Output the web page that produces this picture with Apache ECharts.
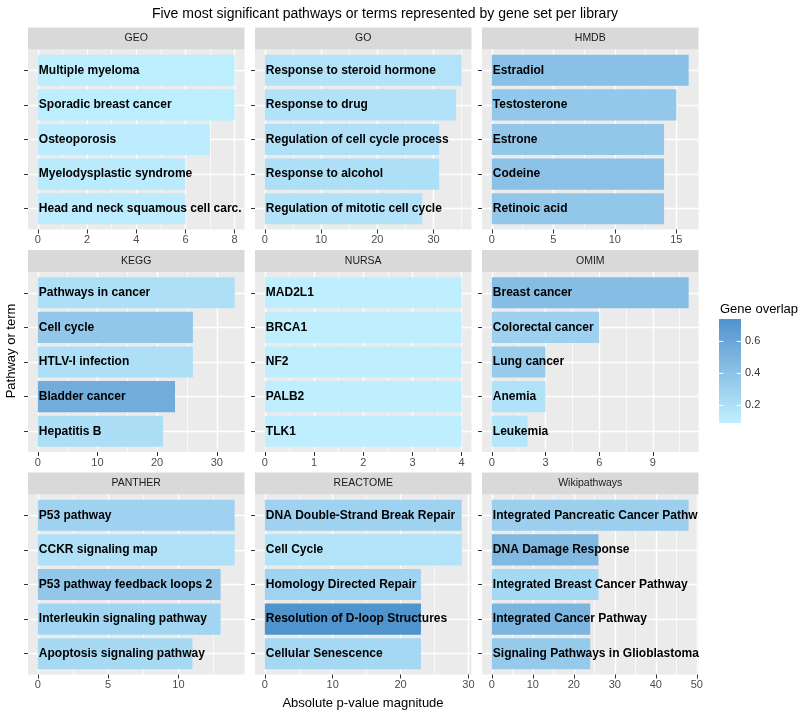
<!DOCTYPE html>
<html><head><meta charset="utf-8">
<script src="https://cdn.jsdelivr.net/npm/echarts@6/dist/echarts.min.js"></script>
<style>html,body{margin:0;padding:0;background:#fff}#chart{width:800px;height:715px}</style>
</head><body><div id="chart"></div>
<script>
// ---------------- data ----------------
const libraries = ['GEO', 'GO', 'HMDB', 'KEGG', 'NURSA', 'OMIM', 'PANTHER', 'REACTOME', 'Wikipathways'];

const geoTerms = ['Multiple myeloma', 'Sporadic breast cancer', 'Osteoporosis', 'Myelodysplastic syndrome', 'Head and neck squamous cell carc.'];
const geoValues = [8, 8, 7, 6, 6];
const geoOverlap = [0.10, 0.10, 0.11, 0.12, 0.11];
const geoTicks = [0, 2, 4, 6, 8];

const goTerms = ['Response to steroid hormone', 'Response to drug', 'Regulation of cell cycle process', 'Response to alcohol', 'Regulation of mitotic cell cycle'];
const goValues = [35, 34, 31, 31, 28];
const goOverlap = [0.17, 0.18, 0.19, 0.20, 0.18];
const goTicks = [0, 10, 20, 30];

const hmdbTerms = ['Estradiol', 'Testosterone', 'Estrone', 'Codeine', 'Retinoic acid'];
const hmdbValues = [16, 15, 14, 14, 14];
const hmdbOverlap = [0.42, 0.36, 0.37, 0.41, 0.37];
const hmdbTicks = [0, 5, 10, 15];

const keggTerms = ['Pathways in cancer', 'Cell cycle', 'HTLV-I infection', 'Bladder cancer', 'Hepatitis B'];
const keggValues = [33, 26, 26, 23, 21];
const keggOverlap = [0.20, 0.37, 0.20, 0.56, 0.21];
const keggTicks = [0, 10, 20, 30];

const nursaTerms = ['MAD2L1', 'BRCA1', 'NF2', 'PALB2', 'TLK1'];
const nursaValues = [4, 4, 4, 4, 4];
const nursaOverlap = [0.09, 0.09, 0.09, 0.09, 0.09];
const nursaTicks = [0, 1, 2, 3, 4];

const omimTerms = ['Breast cancer', 'Colorectal cancer', 'Lung cancer', 'Anemia', 'Leukemia'];
const omimValues = [11, 6, 3, 3, 2];
const omimOverlap = [0.44, 0.30, 0.33, 0.18, 0.15];
const omimTicks = [0, 3, 6, 9];

const pantherTerms = ['P53 pathway', 'CCKR signaling map', 'P53 pathway feedback loops 2', 'Interleukin signaling pathway', 'Apoptosis signaling pathway'];
const pantherValues = [14, 14, 13, 13, 11];
const pantherOverlap = [0.29, 0.19, 0.37, 0.27, 0.24];
const pantherTicks = [0, 5, 10];

const reactomeTerms = ['DNA Double-Strand Break Repair', 'Cell Cycle', 'Homology Directed Repair', 'Resolution of D-loop Structures', 'Cellular Senescence'];
const reactomeValues = [29, 29, 23, 23, 23];
const reactomeOverlap = [0.29, 0.17, 0.28, 0.74, 0.25];
const reactomeTicks = [0, 10, 20, 30];

const wikiTerms = ['Integrated Pancreatic Cancer Pathway', 'DNA Damage Response', 'Integrated Breast Cancer Pathway', 'Integrated Cancer Pathway', 'Signaling Pathways in Glioblastoma'];
const wikiValues = [48, 26, 26, 24, 24];
const wikiOverlap = [0.31, 0.47, 0.25, 0.50, 0.35];
const wikiTicks = [0, 10, 20, 30, 40, 50];

const legendTicks = [0.2, 0.4, 0.6];

const panels = [
  { terms: geoTerms, values: geoValues, overlap: geoOverlap, ticks: geoTicks },
  { terms: goTerms, values: goValues, overlap: goOverlap, ticks: goTicks },
  { terms: hmdbTerms, values: hmdbValues, overlap: hmdbOverlap, ticks: hmdbTicks },
  { terms: keggTerms, values: keggValues, overlap: keggOverlap, ticks: keggTicks },
  { terms: nursaTerms, values: nursaValues, overlap: nursaOverlap, ticks: nursaTicks },
  { terms: omimTerms, values: omimValues, overlap: omimOverlap, ticks: omimTicks },
  { terms: pantherTerms, values: pantherValues, overlap: pantherOverlap, ticks: pantherTicks },
  { terms: reactomeTerms, values: reactomeValues, overlap: reactomeOverlap, ticks: reactomeTicks },
  { terms: wikiTerms, values: wikiValues, overlap: wikiOverlap, ticks: wikiTicks }
];

// ---------------- colour scale (CIELAB interpolation like ggplot) ----------------
const LOW = '#BFEFFF', HIGH = '#4F94CD';
function hex2rgb(h) { return [1, 3, 5].map(i => parseInt(h.substr(i, 2), 16)); }
function lin(c) { c /= 255; return c <= 0.04045 ? c / 12.92 : Math.pow((c + 0.055) / 1.055, 2.4); }
function delin(c) { c = c <= 0.0031308 ? 12.92 * c : 1.055 * Math.pow(c, 1 / 2.4) - 0.055; return Math.max(0, Math.min(255, Math.round(c * 255))); }
const WP = [0.95047, 1, 1.08883];
function rgb2lab(rgb) {
  const [r, g, b] = rgb.map(lin);
  const x = (0.4124 * r + 0.3576 * g + 0.1805 * b) / WP[0];
  const y = (0.2126 * r + 0.7152 * g + 0.0722 * b) / WP[1];
  const z = (0.0193 * r + 0.1192 * g + 0.9505 * b) / WP[2];
  const f = t => t > 0.008856 ? Math.cbrt(t) : 7.787 * t + 16 / 116;
  const fx = f(x), fy = f(y), fz = f(z);
  return [116 * fy - 16, 500 * (fx - fy), 200 * (fy - fz)];
}
function lab2rgb(lab) {
  const fy = (lab[0] + 16) / 116, fx = fy + lab[1] / 500, fz = fy - lab[2] / 200;
  const fi = t => t > 0.206893 ? t * t * t : (t - 16 / 116) / 7.787;
  const x = fi(fx) * WP[0], y = fi(fy) * WP[1], z = fi(fz) * WP[2];
  const r = 3.2406 * x - 1.5372 * y - 0.4986 * z;
  const g = -0.9689 * x + 1.8758 * y + 0.0415 * z;
  const b = 0.0557 * x - 0.2040 * y + 1.0570 * z;
  return 'rgb(' + [r, g, b].map(delin).join(',') + ')';
}
const labLow = rgb2lab(hex2rgb(LOW)), labHigh = rgb2lab(hex2rgb(HIGH));
const allOverlap = panels.flatMap(p => p.overlap);
const oMin = Math.min(...allOverlap), oMax = Math.max(...allOverlap);
function fillFor(v) {
  const t = (v - oMin) / (oMax - oMin);
  return lab2rgb(labLow.map((l, i) => l + (labHigh[i] - l) * t));
}

// ---------------- layout ----------------
const FONT = '"Liberation Sans", Arial, Helvetica, sans-serif';
const colLeft = [28, 255, 482];
const panelW = 216.5;
const rowTop = [27.5, 250, 472.5];
const stripH = 22;
const plotH = 180;

const grids = [], xAxes = [], yAxes = [], series = [], graphics = [];

panels.forEach((p, i) => {
  const col = i % 3, row = Math.floor(i / 3);
  const left = colLeft[col];
  const plotTop = rowTop[row] + stripH;
  const vmax = Math.max(...p.values);
  const dMin = -0.05 * vmax, dMax = 1.05 * vmax;
  const step = p.ticks[1] - p.ticks[0];
  const minor = p.ticks.slice(0, -1).map(t => t + step / 2);
  const lastHalf = p.ticks[p.ticks.length - 1] + step / 2;
  if (lastHalf <= dMax) minor.push(lastHalf);

  // background grid (panel)
  const gA = grids.length;
  grids.push({ left: left, top: plotTop, width: panelW, height: plotH, show: true,
    backgroundColor: '#EBEBEB', borderWidth: 0, containLabel: false, outerBoundsMode: 'none' });
  // bar grid (inset by discrete-axis expansion)
  const inset = plotH * 0.1 / 5.2;
  const gB = grids.length;
  grids.push({ left: left, top: plotTop + inset, width: panelW, height: plotH - 2 * inset,
    show: false, containLabel: false, outerBoundsMode: 'none' });

  // major x axis
  xAxes.push({ gridIndex: gA, type: 'value', min: dMin, max: dMax, position: 'bottom',
    axisLine: { show: false, onZero: false },
    axisTick: { show: true, length: 4, customValues: p.ticks, lineStyle: { color: '#333333', width: 1 } },
    axisLabel: { show: true, customValues: p.ticks, color: '#4D4D4D', fontSize: 11, fontFamily: FONT, margin: 5,
      formatter: v => String(v) },
    splitLine: { show: true, lineStyle: { color: '#FFFFFF', width: 1.4 } } });
  // minor x grid lines
  xAxes.push({ gridIndex: gA, type: 'value', min: dMin, max: dMax, position: 'top',
    axisLine: { show: false, onZero: false },
    axisTick: { show: false, customValues: minor },
    axisLabel: { show: false, customValues: minor },
    splitLine: { show: true, lineStyle: { color: '#FFFFFF', width: 0.7 } } });
  // y axis of background grid: horizontal lines at category centres
  yAxes.push({ gridIndex: gA, type: 'value', min: 0.4, max: 5.6, inverse: true, position: 'left',
    axisLine: { show: false, onZero: false },
    axisTick: { show: true, length: 4, customValues: [1, 2, 3, 4, 5], lineStyle: { color: '#333333', width: 1 } },
    axisLabel: { show: false, customValues: [1, 2, 3, 4, 5] },
    splitLine: { show: true, lineStyle: { color: '#FFFFFF', width: 1.4 } } });

  // bar grid axes
  const xB = xAxes.length;
  xAxes.push({ gridIndex: gB, type: 'value', min: dMin, max: dMax, show: false,
    axisLine: { onZero: false }, splitLine: { show: false } });
  const yB = yAxes.length;
  yAxes.push({ gridIndex: gB, type: 'category', data: p.terms, inverse: true, show: false,
    axisLine: { onZero: false }, splitLine: { show: false } });

  const zeroPx = panelW * (0 - dMin) / (dMax - dMin);
  series.push({
    type: 'bar', xAxisIndex: xB, yAxisIndex: yB, barWidth: '90%',
    data: p.values.map((v, k) => ({ value: v, itemStyle: { color: fillFor(p.overlap[k]) } })),
    itemStyle: { borderWidth: 0 },
    label: { show: true, position: 'insideLeft', distance: 1, formatter: '{b}',
      color: '#000000', fontWeight: 'bold', fontSize: 12, fontFamily: FONT,
      textBorderWidth: 0, textShadowBlur: 0,
      overflow: 'truncate', ellipsis: '', width: panelW - zeroPx + 3 },
    emphasis: { disabled: true },
    silent: true,
    animation: false
  });

  // strip
  graphics.push({ type: 'rect', left: left, top: rowTop[row], shape: { width: panelW, height: stripH },
    style: { fill: '#D9D9D9' }, silent: true });
  graphics.push({ type: 'text', x: left + panelW / 2, y: rowTop[row] + stripH / 2,
    style: { text: libraries[i], fill: '#1A1A1A', font: '10.5px ' + FONT, textAlign: 'center', textVerticalAlign: 'middle' },
    silent: true });
});

// titles
graphics.push({ type: 'text', x: 385, y: 14,
  style: { text: 'Five most significant pathways or terms represented by gene set per library', fill: '#000000',
    font: '14px ' + FONT, textAlign: 'center', textVerticalAlign: 'middle' } });
graphics.push({ type: 'text', x: 363, y: 703,
  style: { text: 'Absolute p-value magnitude', fill: '#000000', font: '13px ' + FONT, textAlign: 'center', textVerticalAlign: 'middle' } });
graphics.push({ type: 'text', x: 11, y: 351, rotation: Math.PI / 2,
  style: { text: 'Pathway or term', fill: '#000000', font: '13px ' + FONT, textAlign: 'center', textVerticalAlign: 'middle' } });

// colour bar legend
const cbX = 719, cbY = 319, cbW = 22, cbH = 104;
const stops = [];
for (let s = 0; s <= 20; s++) {
  const v = oMax - (oMax - oMin) * s / 20;
  stops.push({ offset: s / 20, color: fillFor(v) });
}
graphics.push({ type: 'text', x: 720, y: 309,
  style: { text: 'Gene overlap', fill: '#000000', font: '13px ' + FONT, textAlign: 'left', textVerticalAlign: 'middle' } });
graphics.push({ type: 'rect', x: cbX, y: cbY, shape: { width: cbW, height: cbH },
  style: { fill: new echarts.graphic.LinearGradient(0, 0, 0, 1, stops) } });
legendTicks.forEach(v => {
  const y = cbY + cbH * (oMax - v) / (oMax - oMin);
  graphics.push({ type: 'line', shape: { x1: cbX, y1: y, x2: cbX + 4.4, y2: y }, style: { stroke: '#FFFFFF', lineWidth: 1 } });
  graphics.push({ type: 'line', shape: { x1: cbX + cbW - 4.4, y1: y, x2: cbX + cbW, y2: y }, style: { stroke: '#FFFFFF', lineWidth: 1 } });
  graphics.push({ type: 'text', x: cbX + cbW + 4, y: y,
    style: { text: v.toFixed(1), fill: '#333333', font: '11px ' + FONT, textAlign: 'left', textVerticalAlign: 'middle' } });
});

const chart = echarts.init(document.getElementById('chart'), null, { renderer: 'canvas' });
chart.setOption({
  animation: false,
  backgroundColor: '#FFFFFF',
  textStyle: { fontFamily: FONT },
  grid: grids,
  xAxis: xAxes,
  yAxis: yAxes,
  series: series,
  graphic: graphics
});
</script>
</body></html>
